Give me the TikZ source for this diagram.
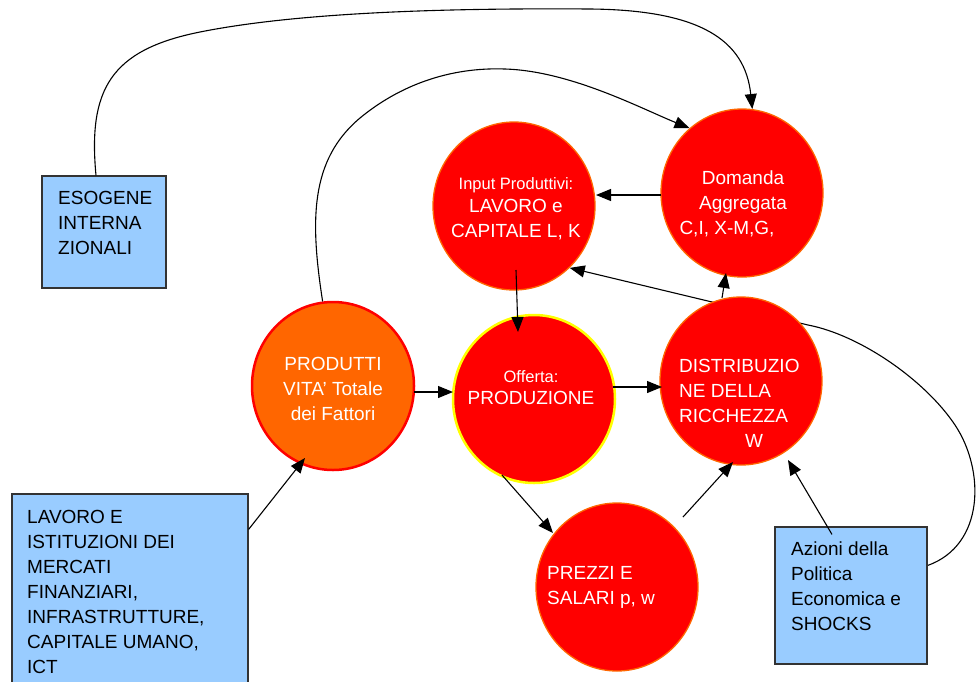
\documentclass[tikz,border=0pt]{standalone}
\usepackage{fontspec}
\setmainfont{Liberation Sans}
\usetikzlibrary{arrows.meta,shapes.geometric,backgrounds}
\definecolor{cred}{HTML}{FF0000}
\definecolor{corange}{HTML}{FF6600}
\definecolor{cblue}{HTML}{99CCFF}
\definecolor{cyell}{HTML}{FFFF00}
\begin{document}
\begin{tikzpicture}[x=1pt,y=-1pt,
 bubble/.style={ellipse,fill=cred,draw=corange,line width=1.3pt,minimum width=162pt,minimum height=168pt,inner sep=0pt},
 box/.style={rectangle,fill=cblue,draw=black!80,line width=1.1pt,inner sep=0pt},
 wtxt/.style={text=white,font=\fontsize{19}{25}\selectfont,inner sep=0pt},
 btxt/.style={text=black,font=\fontsize{19}{25}\selectfont,inner sep=0pt,align=left,anchor=west},
 arr/.style={line width=1.1pt,-{Triangle[length=15pt,width=12pt]}},
 link/.style={line width=1.1pt}]
\useasboundingbox (0,0) rectangle (976,681);
\clip (0,0) rectangle (976,681);
% bubbles
\node[bubble] (inp) at (514,206) {};
\node[bubble] (dom) at (742,193) {};
\node[bubble,fill=corange,draw=cred,line width=2.5pt] (prod) at (333,386) {};
\node[bubble,draw=cyell,line width=2.5pt] (off) at (534,399) {};
\node[bubble] (dist) at (741,381) {};
\node[bubble] (prez) at (617,587) {};
% boxes
\node[box,minimum width=124pt,minimum height=112pt] (esog) at (104,232) {};
\node[box,minimum width=236pt,minimum height=220pt] (lav) at (130,604) {};
\node[box,minimum width=152pt,minimum height=137pt] (azi) at (851,595.5) {};
% texts
\node[wtxt,align=center] (tinp) at (516,208.5) {{\fontsize{16.5}{22}\selectfont Input Produttivi:}\\[-2pt]LAVORO e\\CAPITALE L, K};
\node[wtxt,align=center] (tdom) at (743,203.5) {Domanda\\Aggregata\\\hspace*{-32pt}C,I, X-M,G,};
\node[wtxt,align=center] (tprod) at (333,389) {PRODUTTI\\VITA’ Totale\\dei Fattori};
\node[wtxt,align=center] (toff) at (531,388) {{\fontsize{16.5}{22}\selectfont Offerta:}\\[-3pt]PRODUZIONE};
\node[wtxt,align=left,anchor=west] (tdist) at (679,403.5) {DISTRIBUZIO\\NE DELLA\\RICCHEZZA\\\hspace*{66pt}W};
\node[wtxt,align=left,anchor=west] (tprez) at (547,587) {PREZZI E\\SALARI p, w};
\node[btxt] (tesog) at (58,223) {ESOGENE\\INTERNA\\ZIONALI};
\node[btxt] (tlav) at (27,591.5) {LAVORO E\\ISTITUZIONI DEI\\MERCATI\\FINANZIARI,\\INFRASTRUTTURE,\\CAPITALE UMANO,\\ICT};
\node[btxt] (tazi) at (791,586.5) {Azioni della\\Politica\\Economica e\\SHOCKS};
% connectors
\draw[arr] ([xshift=-8pt]esog.north) .. controls (88,90) and (110,50) .. (200,32) .. controls (300,12) and (450,8) .. (590,9) .. controls (700,10) and (745,40) .. (dom.83);
\draw[arr] (prod.97) .. controls (310,220) and (310,160) .. (360,118) .. controls (400,85) and (450,67) .. (505,69) .. controls (570,71) and (640,108) .. (dom.129);
\draw[arr] ([shift={(-81,2)}]dom.center) -- ([shift={(82,-11)}]inp.center);
\draw[arr] ([shift={(2,64)}]inp.center) -- ([shift={(-16,-67)}]off.center);
\draw[arr] ([shift={(81,6)}]prod.center) -- ([shift={(-81,-7)}]off.center);
\draw[arr] ([shift={(79,-12)}]off.center) -- ([shift={(-79,6)}]dist.center);
\draw[arr] ([shift={(-32,76)}]off.center) -- ([shift={(-64,-54)}]prez.center);
\draw[arr] ([shift={(66,-70)}]prez.center) -- ([shift={(-8,81)}]dist.center);
\draw[arr] ([shift={(-19,-83)}]dist.center) -- ([shift={(-16,80)}]dom.center);
\draw[arr] ([shift={(-19,8)}]azi.north) -- ([shift={(47,79)}]dist.center);
\draw[arr] ([shift={(0,36)}]lav.north east) -- ([shift={(-28,72)}]prod.center);
\begin{scope}[on background layer]
\draw[arr] ([shift={(0,-30)}]azi.east) .. controls (985,545) and (985,470) .. (955,425) .. controls (925,380) and (860,335) .. (808,325) -- (inp.-48);
\end{scope}
\end{tikzpicture}
\end{document}
